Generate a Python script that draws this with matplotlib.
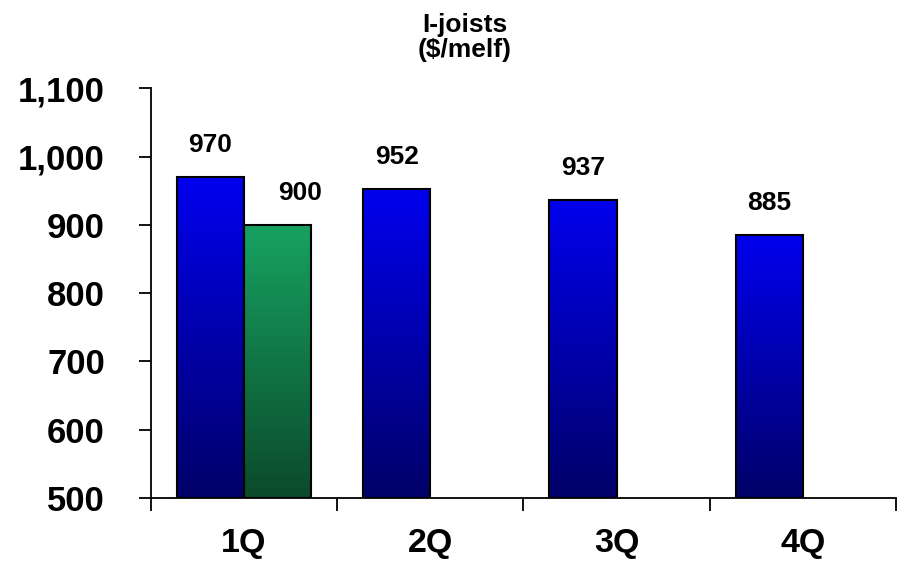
import numpy as np
import matplotlib.pyplot as plt
from matplotlib.colors import LinearSegmentedColormap

plt.rcParams['font.family'] = ['Liberation Sans', 'DejaVu Sans']
plt.rcParams['font.weight'] = 'bold'

quarters = ['1Q', '2Q', '3Q', '4Q']
price_blue = [970, 952, 937, 885]
price_green = [900, np.nan, np.nan, np.nan]
y_ticks = [500, 600, 700, 800, 900, 1000, 1100]

fig = plt.figure(figsize=(8.97, 5.73), dpi=100)
ax = fig.add_axes([0.168, 0.131, 0.831, 0.715])

x = np.arange(len(quarters))
w = 0.36

blue_cmap = LinearSegmentedColormap.from_list('blues', ['#000068', '#0000EE'])
green_cmap = LinearSegmentedColormap.from_list('greens', ['#0B4A2A', '#17A262'])


def gradient_bars(xs, vals, cmap):
    grad = np.linspace(0, 1, 256).reshape(-1, 1)
    for xi, v in zip(xs, vals):
        if np.isnan(v):
            continue
        bar = ax.bar(xi, v - 500, w, bottom=500, facecolor='none',
                     edgecolor='black', linewidth=1.5, zorder=3)[0]
        img = ax.imshow(grad, cmap=cmap, origin='lower', aspect='auto',
                        extent=[xi - w / 2, xi + w / 2, 500, v], zorder=2)
        img.set_clip_path(bar)


gradient_bars(x - w / 2, price_blue, blue_cmap)
gradient_bars(x + w / 2, price_green, green_cmap)
ax.set_xlim(-0.5, 3.5)
ax.set_ylim(500, 1100)
ax.set_aspect('auto')

# value labels above bars
for xi, v in zip(x - w / 2, price_blue):
    ax.text(xi, v + 29, f'{v:.0f}', ha='center', va='bottom',
            fontsize=19, fontweight='bold')
for xi, v in zip(x + w / 2, price_green):
    if not np.isnan(v):
        ax.text(xi + 0.12, v + 29, f'{v:.0f}', ha='center', va='bottom',
                fontsize=19, fontweight='bold')

ax.spines['top'].set_visible(False)
ax.spines['right'].set_visible(False)
for s in ['left', 'bottom']:
    ax.spines[s].set_linewidth(1.3)

ax.set_yticks(y_ticks)
ax.set_yticklabels([f'{t:,}' for t in y_ticks])
ax.tick_params(axis='y', direction='out', length=9, width=1.3,
               labelsize=25, pad=24)

ax.set_xticks(np.arange(-0.5, 4, 1))
ax.set_xticklabels([])
ax.set_xticks(x, minor=True)
ax.set_xticklabels(quarters, minor=True)
ax.tick_params(axis='x', which='major', direction='out', length=9, width=1.3)
ax.tick_params(axis='x', which='minor', length=0, labelsize=24.5, pad=22)

fig.text(0.518, 0.978, 'I-joists\n($/melf)', ha='center', va='top',
         fontsize=19, fontweight='bold', linespacing=1.05)

fig.savefig('out.png', dpi=100)
